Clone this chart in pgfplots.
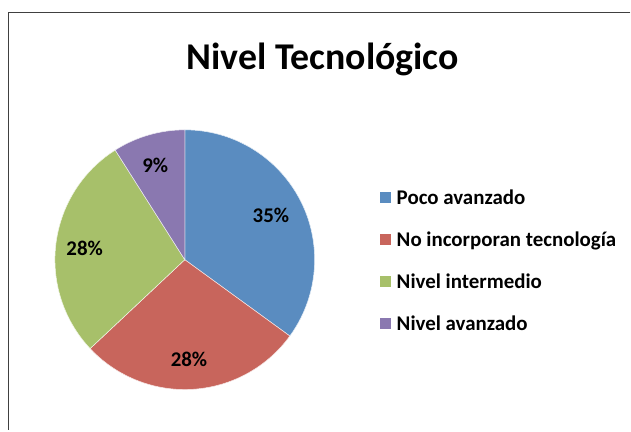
\documentclass[border=0pt]{standalone}
\usepackage{pgfplots}
\pgfplotsset{compat=1.18}
\usepackage{pgfplotstable}
\usetikzlibrary{calc}
\usepackage{fontspec}
\setmainfont{Carlito}
\definecolor{c0}{RGB}{90,140,192}
\definecolor{c1}{RGB}{200,101,92}
\definecolor{c2}{RGB}{167,192,106}
\definecolor{c3}{RGB}{138,120,176}
\pgfplotstableread[col sep=comma]{
label,value
Poco avanzado,35
No incorporan tecnología,28
Nivel intermedio,28
Nivel avanzado,9
}\pietable
\begin{document}
\begin{tikzpicture}
\xdef\cum{90}
\pgfplotsforeachungrouped \i in {0,...,3}{%
  \pgfplotstablegetelem{\i}{value}\of\pietable
  \edef\val{\pgfplotsretval}%
  \pgfmathsetmacro\sweep{\val*3.6}%
  \pgfmathsetmacro\endang{\cum-\sweep}%
  \pgfmathsetmacro\midang{\cum-\sweep/2}%
  \expandafter\xdef\csname s\i\endcsname{\cum}%
  \expandafter\xdef\csname e\i\endcsname{\endang}%
  \expandafter\xdef\csname m\i\endcsname{\midang}%
  \expandafter\xdef\csname v\i\endcsname{\val}%
  \pgfplotstablegetelem{\i}{label}\of\pietable
  \expandafter\xdef\csname l\i\endcsname{\pgfplotsretval}%
  \xdef\cum{\endang}%
}
\begin{axis}[x=1bp,y=1bp,xmin=0,xmax=631,ymin=-431,ymax=0,
  hide axis, clip=false]
\path (axis cs:0,0) rectangle (axis cs:631,-431);
\draw[black!75, line width=1.5bp] (axis cs:631,-12.5) -- (axis cs:8.5,-12.5) -- (axis cs:8.5,-431);
\node[font=\bfseries\fontsize{38}{45}\selectfont, anchor=base] at (axis cs:323,-70) {Nivel Tecnológico};
\pgfplotsinvokeforeach{0,...,3}{
  \fill[c#1, draw=white!85!c#1, line width=0.5bp] (axis cs:185,-260) -- ++(\csname s#1\endcsname:130bp)
    arc[start angle=\csname s#1\endcsname, end angle=\csname e#1\endcsname, radius=130bp] -- cycle;
}
\pgfplotsinvokeforeach{0,...,3}{
  \node[font=\bfseries\fontsize{21}{25}\selectfont] at ($(axis cs:183,-261)+(\csname m#1\endcsname:99bp)$) {\csname v#1\endcsname\%};
  \fill[c#1] (axis cs:380,{-192-42*#1}) rectangle (axis cs:391,{-203-42*#1});
  \node[font=\bfseries\fontsize{21}{25}\selectfont, anchor=base west, inner sep=0pt] at (axis cs:397,{-205-42*#1}) {\csname l#1\endcsname};
}
\end{axis}
\end{tikzpicture}
\end{document}
